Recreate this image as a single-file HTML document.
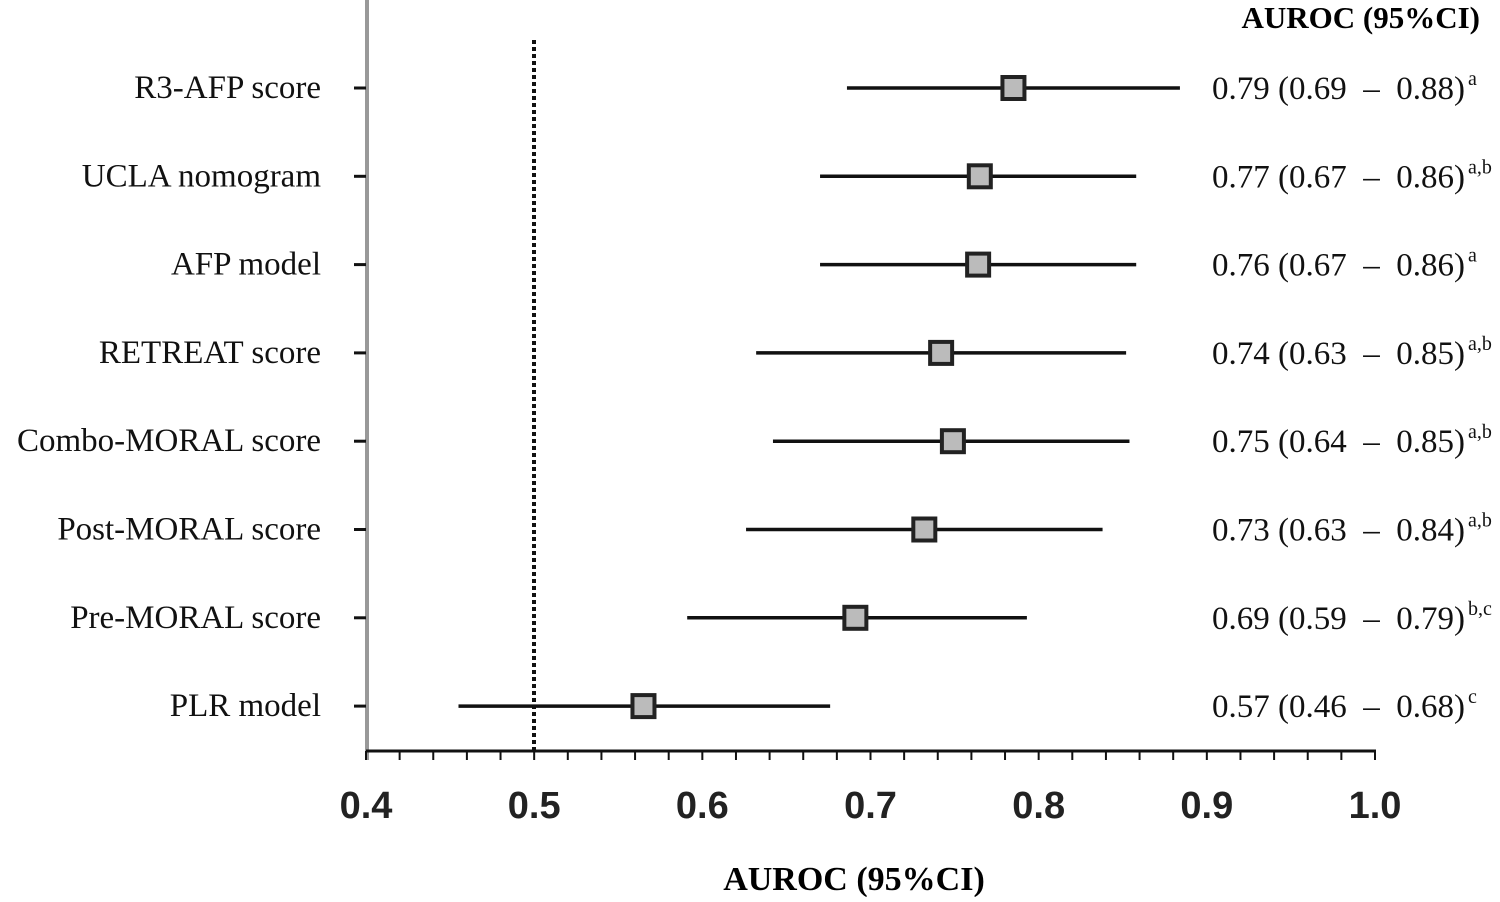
<!DOCTYPE html>
<html><head><meta charset="utf-8"><style>
body{margin:0;background:#fff}
svg text{font-family:"Liberation Serif",serif}
</style></head><body>
<svg width="1500" height="897" id="chart">
<line x1="367" y1="0" x2="367" y2="760" stroke="#999" stroke-width="4"/>
<line x1="366" y1="751" x2="1376" y2="751" stroke="#111" stroke-width="3"/>
<line x1="534" y1="40" x2="534" y2="751" stroke="#111" stroke-width="4" stroke-dasharray="4,3"/>
<text x="1480" y="28" text-anchor="end" font-weight="bold" font-size="31">AUROC (95%CI)</text>
<text x="854" y="890" text-anchor="middle" font-weight="bold" font-size="34">AUROC  (95%CI)</text>
</svg>
<script>
const labels=["R3-AFP score","UCLA nomogram","AFP model","RETREAT score","Combo-MORAL score","Post-MORAL score","Pre-MORAL score","PLR model"];
const est=[0.785,0.765,0.764,0.742,0.749,0.732,0.691,0.565];
const lo=[0.686,0.670,0.670,0.632,0.642,0.626,0.591,0.455];
const hi=[0.884,0.858,0.858,0.852,0.854,0.838,0.793,0.676];
const annot=["0.79 (0.69 – 0.88)","0.77 (0.67 – 0.86)","0.76 (0.67 – 0.86)","0.74 (0.63 – 0.85)","0.75 (0.64 – 0.85)","0.73 (0.63 – 0.84)","0.69 (0.59 – 0.79)","0.57 (0.46 – 0.68)"];
const sups=["a","a,b","a","a,b","a,b","a,b","b,c","c"];
const tickLabels=["0.4","0.5","0.6","0.7","0.8","0.9","1.0"];
const NS="http://www.w3.org/2000/svg",svg=document.getElementById('chart');
const x=v=>366+(v-0.4)*(1375-366)/0.6;
const y=i=>88+i*88.3;
function mk(t,a){const e=document.createElementNS(NS,t);for(const k in a)e.setAttribute(k,a[k]);svg.appendChild(e);return e;}
for(let k=0;k<=30;k++){const v=0.4+k*0.02;
 const t=mk('line',{x1:x(v),x2:x(v),y1:751,y2:760,stroke:'#111','stroke-width':2});
 
 }
tickLabels.forEach(s=>{const t=mk('text',{x:x(parseFloat(s)),y:818,'text-anchor':'middle','font-size':38,'font-weight':'bold',style:'font-family:"Liberation Sans",sans-serif',fill:'#222'});t.textContent=s;
 
 });
labels.forEach((l,i)=>{
 const tk=mk('line',{x1:354,x2:366,y1:y(i),y2:y(i),stroke:'#111','stroke-width':3});
 
 
 const t=mk('text',{x:321,y:y(i)+10,'text-anchor':'end','font-size':33,fill:'#111'});t.textContent=l;
 
 
 const ci=mk('line',{x1:x(lo[i]),x2:x(hi[i]),y1:y(i),y2:y(i),stroke:'#111','stroke-width':3.5});
 
 
 const sq=mk('rect',{x:x(est[i])-11,y:y(i)-11,width:22,height:22,fill:'#bbb',stroke:'#222','stroke-width':4});
 
 
 const a=mk('text',{x:1212,y:y(i)+11,'font-size':33,fill:'#111'});a.textContent=annot[i].replace(' – ','  –  ');
 a.setAttribute('xml:space','preserve');a.style.whiteSpace='pre';
 const sp=document.createElementNS(NS,'tspan');sp.setAttribute('font-size',20);sp.setAttribute('dy',-14);sp.setAttribute('dx',3);sp.textContent=sups[i];a.appendChild(sp);
 
 
});
</script>
</body></html>
